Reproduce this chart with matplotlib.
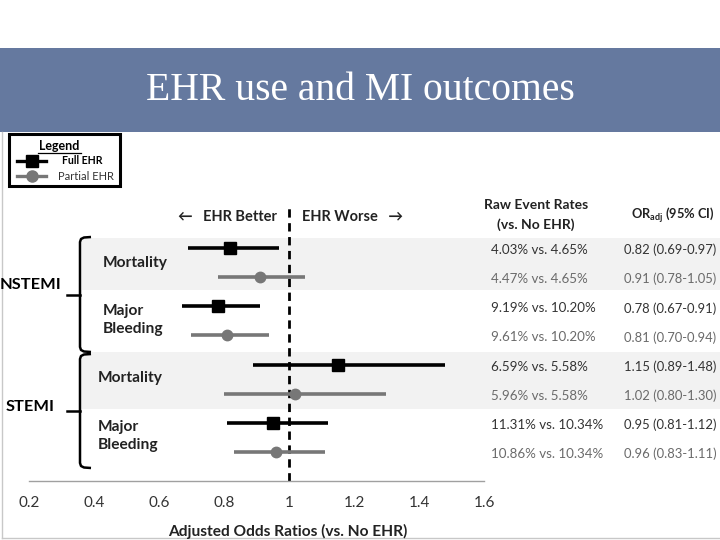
import numpy as np
import matplotlib
matplotlib.use("Agg")
import matplotlib.pyplot as plt
from matplotlib.patches import Rectangle

plt.rcParams['font.family'] = ['Lato', 'DejaVu Sans']

# data
groups = ['NSTEMI', 'STEMI']
outcomes = ['Mortality', 'Major\nBleeding']
ehr_types = ['Full EHR', 'Partial EHR']
or_adj = [0.82, 0.91, 0.78, 0.81, 1.15, 1.02, 0.95, 0.96]
ci_lo = [0.69, 0.78, 0.67, 0.70, 0.89, 0.80, 0.81, 0.83]
ci_hi = [0.97, 1.05, 0.91, 0.94, 1.48, 1.30, 1.12, 1.11]
rate_ehr = ['4.03%', '4.47%', '9.19%', '9.61%', '6.59%', '5.96%', '11.31%', '10.86%']
rate_none = ['4.65%', '4.65%', '10.20%', '10.20%', '5.58%', '5.58%', '10.34%', '10.34%']
xticks = [0.2, 0.4, 0.6, 0.8, 1, 1.2, 1.4, 1.6]

W, H = 720, 540
fig = plt.figure(figsize=(7.2, 5.4), dpi=100)

# background axes in pixel coordinates
bg = fig.add_axes([0, 0, 1, 1])
bg.set_xlim(0, W)
bg.set_ylim(H, 0)
bg.axis('off')

# banner
bg.add_patch(Rectangle((0, 48), W, 84, color='#65799f', lw=0))
bg.text(360, 90, 'EHR use and MI outcomes', color='white', fontsize=28.5,
        family='Liberation Serif', ha='center', va='center')

# slide frame
bg.plot([1.5, 1.5], [132, 538], color='#c8c8c8', lw=1)
bg.plot([1.5, W], [538, 538], color='#c8c8c8', lw=1)

# row geometry
row0, step = 248, 29.14
row_px = [row0 + step * i for i in range(len(or_adj))]

# shaded bands for mortality rows
bg.add_patch(Rectangle((82, 238), W - 82, 52, color='#f2f2f2', lw=0))
bg.add_patch(Rectangle((82, 352), W - 82, 57, color='#f2f2f2', lw=0))

# legend box
bg.add_patch(Rectangle((9, 134), 111, 52, facecolor='white', edgecolor='black', lw=2.2, zorder=3))
bg.text(59, 146, 'Legend', fontsize=9, fontweight='bold', ha='center', va='center', zorder=4)
bg.plot([38, 81], [153, 153], color='black', lw=0.9, zorder=4)
bg.plot([17, 46], [161, 161], color='black', lw=2.4, zorder=4)
bg.plot([32], [161], marker='s', ms=8.5, color='black', zorder=5)
bg.text(62, 161, ehr_types[0], fontsize=7.6, fontweight='bold', ha='left', va='center', zorder=4)
bg.plot([17, 46], [176, 176], color='#777777', lw=2.4, zorder=4)
bg.plot([32], [176], marker='o', ms=8, color='#777777', zorder=5)
bg.text(58, 176, ehr_types[1], fontsize=8, color='#333333', ha='left', va='center', zorder=4)

# braces and group labels
def brace(top, mid, bot):
    bg.plot([91, 84, 81, 80, 80, 81, 84, 91],
            [top, top + 0.5, top + 2, top + 5, bot - 5, bot - 2, bot - 0.5, bot],
            color='black', lw=1.8, solid_capstyle='butt')
    bg.plot([67, 80], [mid, mid], color='black', lw=1.8)

brace(237, 295, 352)
brace(354, 411, 468)
bg.text(0, 285, groups[0], fontsize=11.8, fontweight='bold', ha='left', va='center')
bg.text(6, 407, groups[1], fontsize=11.8, fontweight='bold', ha='left', va='center')

# outcome labels
lab = dict(fontsize=11.2, fontweight='bold', ha='left', va='center', color='#222222')
bg.text(103, 263, outcomes[0], **lab)
bg.text(103, 320, outcomes[1], linespacing=1.3, **lab)
bg.text(98, 378, outcomes[0], **lab)
bg.text(98, 436, outcomes[1], linespacing=1.3, **lab)

# column headers
bg.text(277, 217, '\u2190   EHR Better', fontsize=10.5, fontweight='bold', ha='right', va='center', color='#222222')
bg.text(302, 217, 'EHR Worse   \u2192', fontsize=10.5, fontweight='bold', ha='left', va='center', color='#222222')
bg.text(536, 205, 'Raw Event Rates', fontsize=10, fontweight='bold', ha='center', va='center', color='#222222')
bg.text(536, 225, '(vs. No EHR)', fontsize=10, fontweight='bold', ha='center', va='center', color='#222222')
bg.text(673, 215, r'OR$_{\mathregular{adj}}$ (95% CI)', fontsize=9.3, fontweight='bold',
        ha='center', va='center', color='#222222')

# table text
for i, y in enumerate(row_px):
    col = '#333333' if i % 2 == 0 else '#6a6a6a'
    bg.text(491, y + 2, f'{rate_ehr[i]} vs. {rate_none[i]}', fontsize=9.6, color=col, ha='left', va='center')
    ci = f'{or_adj[i]:.2f} ({ci_lo[i]:.2f}-{ci_hi[i]:.2f})'
    bg.text(624, y + 2, ci, fontsize=9.4, color=col, ha='left', va='center')

bg.text(288, 531, 'Adjusted Odds Ratios (vs. No EHR)', fontsize=11.2, fontweight='bold',
        ha='center', va='center', color='#222222')

# forest plot axes: x in OR units, y in row units
x0, x1, ytop, ybot = 29, 484, 200, 481
ax = fig.add_axes([x0 / W, 1 - ybot / H, (x1 - x0) / W, (ybot - ytop) / H])
ax.patch.set_alpha(0)
ax.set_xlim(0.2, 1.6)
ax.set_ylim((ybot - row0) / step, (ytop - row0) / step)
for s in ['top', 'right', 'left']:
    ax.spines[s].set_visible(False)
ax.spines['bottom'].set_color('#a0a0a0')
ax.spines['bottom'].set_linewidth(1)
ax.set_yticks([])
ax.set_xticks(xticks)
ax.set_xticklabels([f'{t:g}' for t in xticks], fontsize=11, color='#333333')
ax.tick_params(axis='x', length=0, pad=11)

ax.axvline(1, ymin=0, ymax=(ybot - 205) / (ybot - ytop), color='black', lw=2,
           ls=(0, (3, 2)), zorder=2)

for i in range(len(or_adj)):
    if i % 2 == 0:
        ax.plot([ci_lo[i], ci_hi[i]], [i, i], color='black', lw=2.6, zorder=3, solid_capstyle='butt')
        ax.plot(or_adj[i], i, marker='s', ms=9, color='black', zorder=4)
    else:
        ax.plot([ci_lo[i], ci_hi[i]], [i, i], color='#777777', lw=2.6, zorder=3, solid_capstyle='butt')
        ax.plot(or_adj[i], i, marker='o', ms=7.5, color='#777777', zorder=4)

fig.savefig('out.png', dpi=100)
